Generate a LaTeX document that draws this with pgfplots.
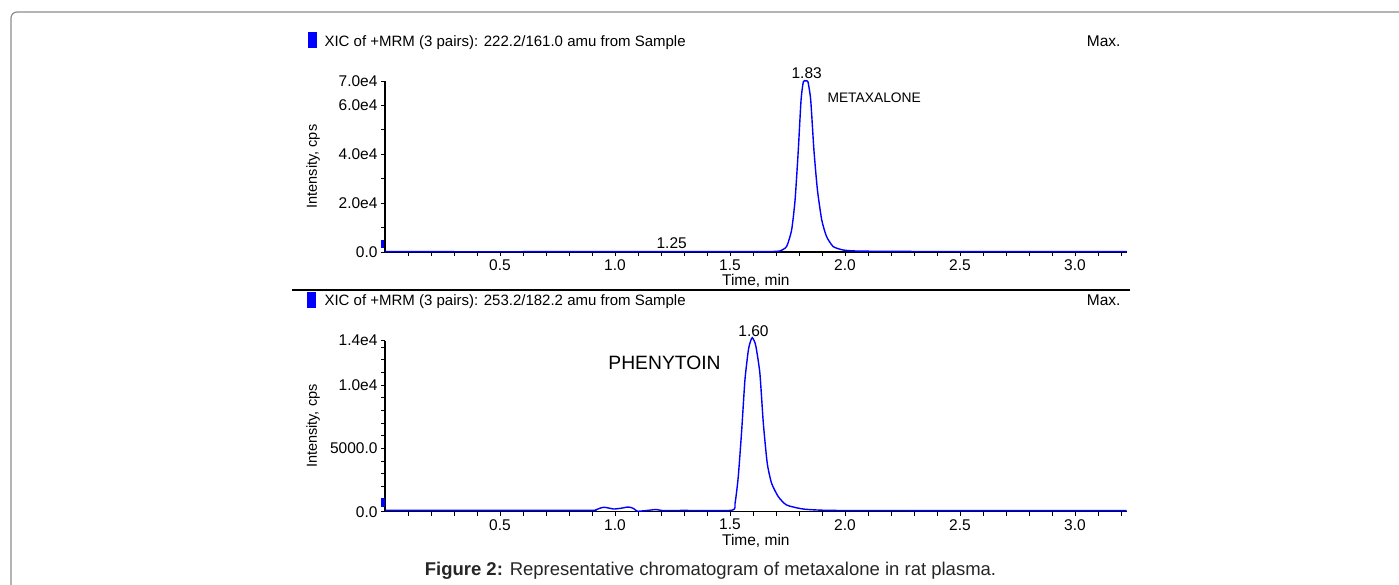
\documentclass[border=0pt]{standalone}
\usepackage{fontspec}
\setmainfont{Liberation Sans}
\usepackage{pgfplots}
\pgfplotsset{compat=1.18}

% peak data (time in min, intensity in cps)
\pgfplotstableread{
t      y
0.000  150
0.300  120
0.600  120
0.900  130
1.200  150
1.250  180
1.300  150
1.500  140
1.650  150
1.700  250
1.717  400
1.746  2200
1.768  9000
1.783  21300
1.797  41700
1.809  62200
1.819  69700
1.829  70000
1.839  69700
1.851  62200
1.865  41700
1.880  25600
1.899  13100
1.920  6300
1.949  2200
1.993  800
2.050  400
2.200  250
2.500  180
3.000  150
3.225  150
}\metaxalone

\pgfplotstableread{
t      y
0.000  100
0.500  100
0.900  100
0.913  120
0.935  280
0.953  350
0.975  280
0.995  210
1.025  270
1.058  370
1.080  260
1.097  40
1.130  80
1.160  140
1.178  170
1.195  120
1.210  90
1.300  100
1.507  110
1.522  660
1.536  2760
1.551  6450
1.565  10400
1.580  12770
1.590  13500
1.597  13740
1.605  13500
1.613  13030
1.630  10930
1.645  6980
1.662  3820
1.681  2240
1.710  1190
1.746  530
1.819  210
1.950  100
2.500  90
3.225  90
}\phenytoin

\pgfplotsset{
  chrom/.style={
    scale only axis, width=741.7pt, height=171pt,
    xmin=0, xmax=3.225, ymin=0,
    axis x line*=bottom, axis y line*=left,
    axis line style={-, line width=1.1pt, black},
    every outer x axis line/.append style={-},
    every outer y axis line/.append style={-},
    tick align=outside,
    major tick length=4pt, minor tick length=4pt,
    tick style={black, line width=0.8pt},
    scaled ticks=false,
    xtick={0.5,1.0,1.5,2.0,2.5,3.0},
    xticklabels={0.5,1.0,1.5,2.0,2.5,3.0},
    minor xtick={0.1,0.2,...,3.21},
    ticklabel style={font=\fontsize{15.5}{18}\selectfont},
    xlabel={Time, min}, ylabel={Intensity, cps},
    every axis x label/.style={at={(rel axis cs:0.5,0)}, anchor=center, yshift=-29pt,
      font=\fontsize{15.5}{18}\selectfont},
    every axis y label/.style={at={(rel axis cs:0,0.5)}, anchor=center, xshift=-72pt, rotate=90,
      font=\fontsize{14.5}{18}\selectfont},
    clip=false,
  },
  trace/.style={blue, line width=1.4pt, smooth, tension=0.35},
}

\begin{document}
\begin{tikzpicture}
\useasboundingbox (0,0) rectangle (1399pt,585pt);

% page frame
\draw[black!45, line width=1.2pt, rounded corners=6pt] (11pt,0pt) -- (11pt,573pt) -- (1399pt,573pt);

% top panel
\fill[blue] (308.3pt,537.3pt) rectangle (316.7pt,552.7pt);
\node[anchor=base west, font=\fontsize{15}{18}\selectfont] at (321pt,538.3pt)
  {XIC of +MRM (3 pairs): 222.2/161.0 amu from Sample};
\node[anchor=base east, font=\fontsize{15.5}{18}\selectfont] at (1124pt,538pt) {Max.};

\begin{axis}[chrom, at={(385pt,333pt)}, anchor=south west, ymax=70000,
  ytick={0,20000,40000,60000,70000},
  yticklabels={0.0,2.0e4,4.0e4,6.0e4,7.0e4},
  minor ytick={10000,30000,50000}]
\addplot[trace] table[x=t, y=y] {\metaxalone};
\end{axis}
\fill[blue] (381pt,337pt) rectangle (384pt,345pt);
\node[anchor=base, font=\fontsize{15.5}{18}\selectfont] at (806.7pt,506.8pt) {1.83};
\node[anchor=base west, font=\fontsize{13.8}{16}\selectfont] at (824pt,482.7pt) {METAXALONE};
\node[anchor=base, font=\fontsize{15.5}{18}\selectfont] at (671.7pt,336.8pt) {1.25};

% divider
\draw[black, line width=1.2pt] (292pt,295pt) -- (1130pt,295pt);

% bottom panel
\fill[blue] (307pt,277pt) rectangle (316pt,293pt);
\node[anchor=base west, font=\fontsize{15}{18}\selectfont] at (321pt,279pt)
  {XIC of +MRM (3 pairs): 253.2/182.2 amu from Sample};
\node[anchor=base east, font=\fontsize{15.5}{18}\selectfont] at (1124pt,279pt) {Max.};

\begin{axis}[chrom, at={(385pt,73.3pt)}, anchor=south west, ymax=13500,
  ytick={0,5000,10000,13500},
  yticklabels={0.0,5000.0,1.0e4,1.4e4},
  minor ytick={1000,2000,...,13000}]
\addplot[trace] table[x=t, y=y] {\phenytoin};
\end{axis}
\fill[blue] (381pt,78.3pt) rectangle (384.5pt,87pt);
\node[anchor=base, font=\fontsize{15.5}{18}\selectfont] at (753.5pt,248.8pt) {1.60};
\node[anchor=base, font=\fontsize{19.3}{22}\selectfont] at (664.5pt,215.7pt) {PHENYTOIN};

% caption
\node[anchor=base, font=\fontsize{18.5}{22}\selectfont, text=black!85] at (710.5pt,9pt)
  {\textbf{Figure 2:} Representative chromatogram of metaxalone in rat plasma.};
\end{tikzpicture}
\end{document}
